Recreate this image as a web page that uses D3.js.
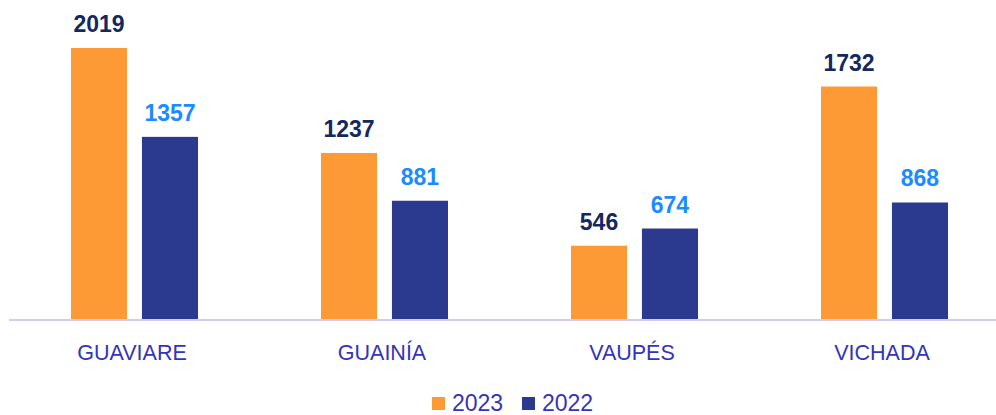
<!DOCTYPE html>
<html>
<head>
<meta charset="utf-8">
<script src="https://cdn.jsdelivr.net/npm/d3@7"></script>
<style>
  body { margin: 0; background: #fff; }
  text { font-family: "Liberation Sans", Arial, sans-serif; }
</style>
</head>
<body>
<svg id="chart" width="996" height="415"></svg>
<script>
    const categories = ['GUAVIARE', 'GUAINÍA', 'VAUPÉS', 'VICHADA']
    const series = ['2023', '2022']
    const values2023 = [2019, 1237, 546, 1732]
    const values2022 = [1357, 881, 674, 868]
    const colors = { '2023': '#fd9a35', '2022': '#2b3a8f' }
    const labelColors = { '2023': '#14285e', '2022': '#1a8cff' }

    const svg = d3.select('#chart')
    const base = 319

    const x = d3.scaleBand()
        .domain(categories)
        .range([9, 1009])

    // bars inside each band, offsets from band start
    const x1 = d3.scaleBand()
        .domain(series)
        .range([62, 189])
        .paddingInner(0.21)

    const y = d3.scaleLinear()
        .domain([0, 2019])
        .range([base, 48])

    const data = categories.map((c, i) => ({
        category: c,
        values: [
            { key: '2023', value: values2023[i] },
            { key: '2022', value: values2022[i] }
        ]
    }))

    svg.selectAll('.group')
        .data(data)
        .join('g')
        .attr('class', 'group')
        .attr('transform', d => 'translate(' + x(d.category) + ',0)')
        .call(sel => {
            sel.selectAll('rect')
                .data(d => d.values)
                .join('rect')
                .attr('x', d => x1(d.key))
                .attr('y', d => y(d.value))
                .attr('width', x1.bandwidth())
                .attr('height', d => base - y(d.value))
                .attr('fill', d => colors[d.key])

            sel.selectAll('.val')
                .data(d => d.values)
                .join('text')
                .attr('class', 'val')
                .attr('x', d => x1(d.key) + x1.bandwidth() / 2)
                .attr('y', d => y(d.value) - 16)
                .attr('text-anchor', 'middle')
                .style('font-size', '23px')
                .style('font-weight', 'bold')
                .attr('fill', d => labelColors[d.key])
                .text(d => d.value)
        })

    // axis line
    svg.append('line')
        .attr('x1', 9).attr('x2', 996)
        .attr('y1', base + 1).attr('y2', base + 1)
        .attr('stroke', '#cfcdf0')
        .attr('stroke-width', 2)

    svg.selectAll('.cat')
        .data(categories)
        .join('text')
        .attr('class', 'cat')
        .attr('x', d => x(d) + x.bandwidth() / 2 - 2)
        .attr('y', 360)
        .attr('text-anchor', 'middle')
        .style('font-size', '21.5px')
        .attr('fill', '#3434b8')
        .text(d => d)

    // legend
    const legend = svg.selectAll('.legend')
        .data(series)
        .join('g')
        .attr('class', 'legend')
        .attr('transform', (d, i) => 'translate(' + (432 + i * 90) + ',397)')

    legend.append('rect')
        .attr('width', 13).attr('height', 13)
        .attr('fill', d => colors[d])

    legend.append('text')
        .attr('x', 20).attr('y', 14)
        .style('font-size', '23px')
        .attr('fill', '#3434b8')
        .text(d => d)
</script>
</body>
</html>
